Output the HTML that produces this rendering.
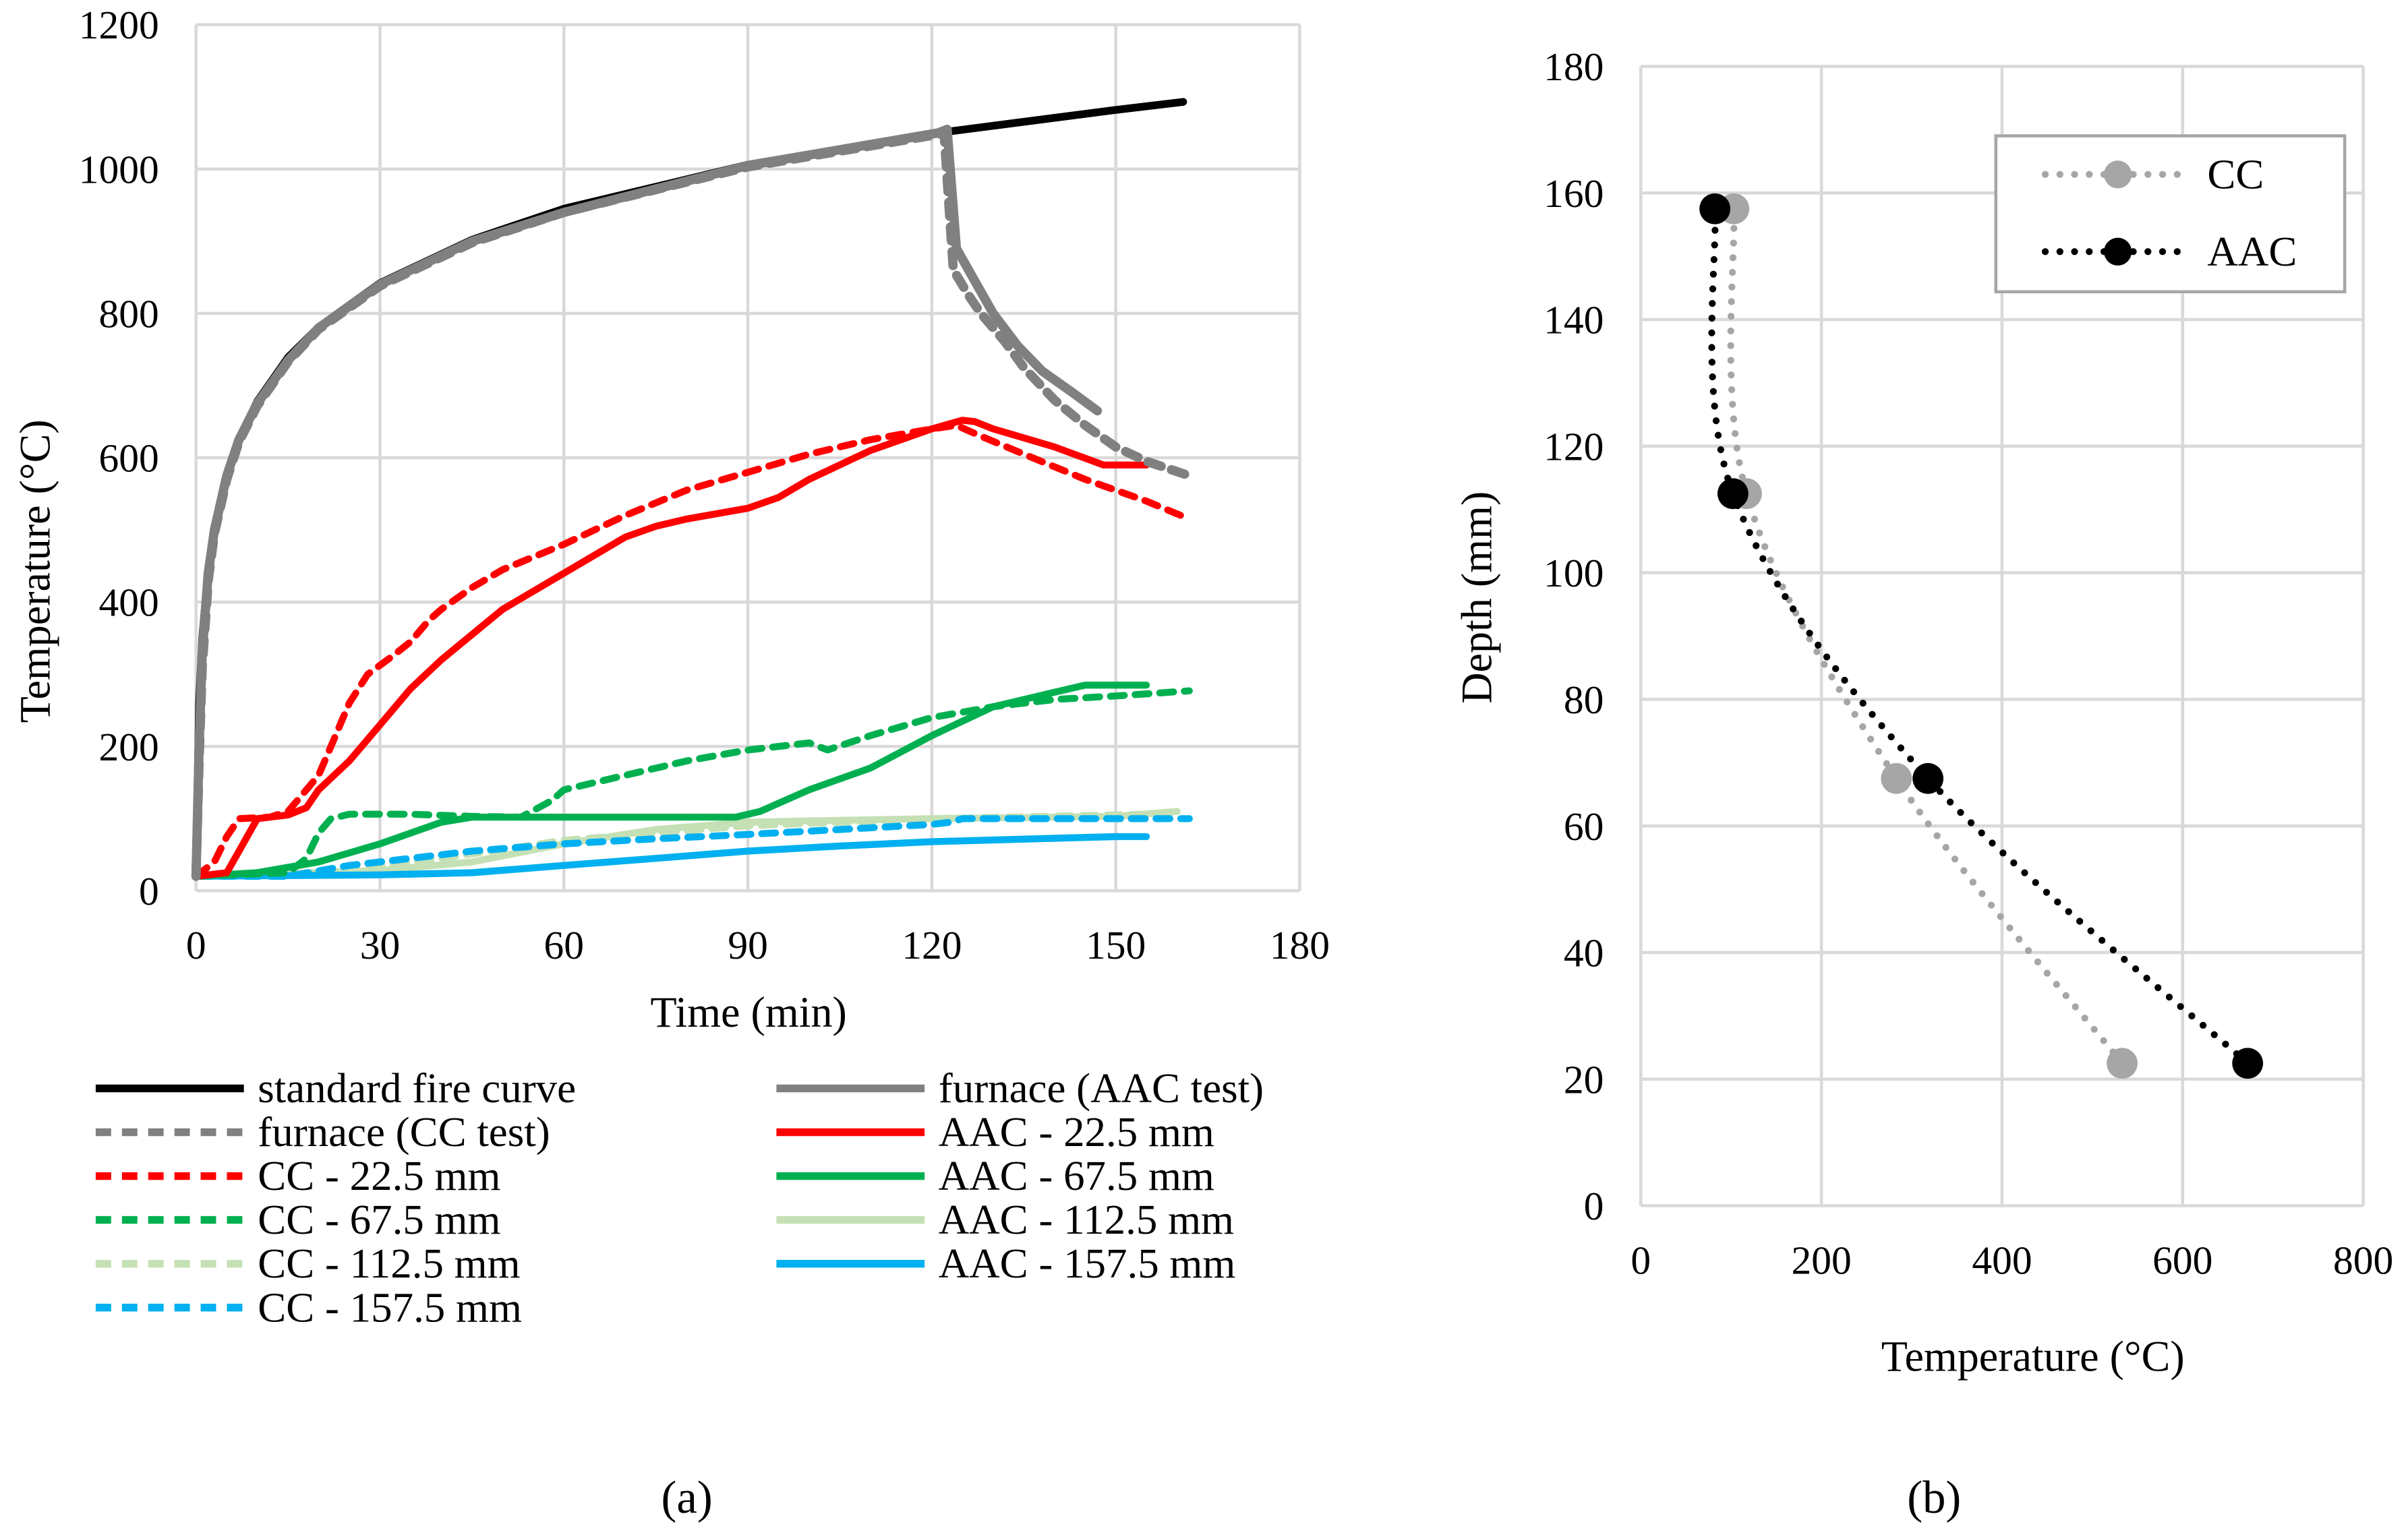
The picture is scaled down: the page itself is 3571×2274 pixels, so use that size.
<!DOCTYPE html>
<html><head><meta charset="utf-8"><style>
html,body{margin:0;padding:0;background:#fff;}
svg{display:block;font-family:"Liberation Serif",serif;}
</style></head><body>
<svg id="chart" width="3571" height="2274" viewBox="0 0 1560 993" preserveAspectRatio="none" xmlns="http://www.w3.org/2000/svg">
<rect x="0" y="0" width="1560" height="993" fill="#fff"/>
<g id="gA"></g>
<g id="gB"></g>
<text x="485" y="665" font-size="28" text-anchor="middle">Time (min)</text>
<text transform="translate(32,370) rotate(-90)" font-size="28" text-anchor="middle">Temperature (°C)</text>
<text x="1317" y="888" font-size="28" text-anchor="middle">Temperature (°C)</text>
<text transform="translate(966,387) rotate(-90)" font-size="28" text-anchor="middle">Depth (mm)</text>
<text x="445" y="980" font-size="30" text-anchor="middle">(a)</text>
<text x="1253" y="980" font-size="30" text-anchor="middle">(b)</text>
</svg>
<script>
// ---- Chart (a) data ----
const xTicksA = [0,30,60,90,120,150,180];
const yTicksA = [0,200,400,600,800,1000,1200];
const stdT = [0,0.5,1,2,3,5,7,10,15,20,30,45,60,90,120,150,161];
const stdV = [20,261,349,445,502,576,626,678,739,781,842,902,945,1006,1049,1082,1093];
const furnAT = [0,0.5,1,2,3,5,7,10,15,20,30,45,60,90,121,122.5,124,127,130,134,138,143,147];
const furnAV = [20,200,330,440,500,575,625,675,735,780,840,900,940,1005,1050,1055,890,845,800,755,720,690,665];
const furnCT = [0,0.5,1,2,3,5,7,10,15,20,30,45,60,90,121,122,123.5,126,128,132,135,140,145,150,155,162];
const furnCV = [20,180,310,430,495,570,622,672,733,778,838,898,940,1003,1048,1050,860,825,800,760,725,680,645,615,595,575];
const redAT = [0,5,8,10,15,18,20,25,30,35,40,50,60,70,75,80,90,95,100,110,120,125,127,130,140,148,155];
const redAV = [20,25,70,100,105,115,140,180,230,280,320,390,440,490,505,515,530,545,570,610,640,652,650,640,615,590,590];
const redCT = [0,3,5,7,12,15,18,20,22,25,28,32,35,38,40,45,50,60,70,80,90,100,110,120,124,128,135,145,155,162];
const redCV = [20,40,75,100,102,110,140,160,200,260,300,325,345,375,390,420,445,480,520,555,580,605,625,640,645,630,605,570,540,515];
const grnAT = [0,10,20,30,40,45,60,88,92,100,110,120,130,140,145,155];
const grnAV = [20,25,40,65,95,102,102,102,110,140,170,215,255,275,285,285];
const grnCT = [0,15,18,20,22,25,35,45,53,58,60,70,80,90,100,103,110,120,130,140,150,162];
const grnCV = [20,25,45,80,100,106,106,103,102,125,140,160,180,195,205,195,215,240,255,265,270,277];
const lgAT = [0,30,45,60,75,90,100,120,150,160];
const lgAV = [20,28,40,65,85,95,97,100,103,110];
const lgCT = [0,20,40,60,90,120,160];
const lgCV = [20,22,45,70,90,100,107];
const bluAT = [0,30,45,60,75,90,105,120,150,155];
const bluAV = [20,22,25,35,45,55,62,68,75,75];
const bluCT = [0,15,25,35,45,60,75,90,105,120,123,125,162];
const bluCV = [20,20,35,45,55,65,72,78,85,92,95,100,100];
// ---- Chart (b) data ----
const xTicksB = [0,200,400,600,800];
const yTicksB = [0,20,40,60,80,100,120,140,160,180];
const depths = [22.5,67.5,112.5,157.5];
const ccTemps = [533,283,117,103];
const aacTemps = [672,318,102,82];

const NS="http://www.w3.org/2000/svg";
function mk(tag,attrs,parent){const e=document.createElementNS(NS,tag);for(const k in attrs)e.setAttribute(k,attrs[k]);parent.appendChild(e);return e;}
const xA=v=>127+(842-127)*v/180, yA=v=>577-(577-16)*v/1200;
const xB=v=>1063+(1531-1063)*v/800, yB=v=>781-(781-43)*v/180;

const gA=document.getElementById('gA'), gB=document.getElementById('gB');
xTicksA.forEach(t=>{const l=mk('line',{x1:xA(t),x2:xA(t),y1:yA(0),y2:yA(1200),stroke:'#d9d9d9','stroke-width':2},gA);


const tx=mk('text',{x:xA(t),y:621,'font-size':26,'text-anchor':'middle'},gA);tx.textContent=t;

});
yTicksA.forEach(t=>{const l=mk('line',{x1:xA(0),x2:xA(180),y1:yA(t),y2:yA(t),stroke:'#d9d9d9','stroke-width':2},gA);


const tx=mk('text',{x:103,y:yA(t)+9,'font-size':26,'text-anchor':'end'},gA);tx.textContent=t;

});
function pathA(T,V){return T.map((t,i)=>(i?'L':'M')+xA(t).toFixed(1)+' '+yA(V[i]).toFixed(1)).join(' ');}
const seriesA=[
 [lgCT,lgCV,'#c5e0b4',false,'cc-112-line'],[lgAT,lgAV,'#c5e0b4',true,'aac-112-line'],
 [bluAT,bluAV,'#00b0f0',true,'aac-157-line'],[bluCT,bluCV,'#00b0f0',false,'cc-157-line'],
 [grnAT,grnAV,'#00b050',true,'aac-67-line'],[grnCT,grnCV,'#00b050',false,'cc-67-line'],
 [redAT,redAV,'#ff0000',true,'aac-22-line'],[redCT,redCV,'#ff0000',false,'cc-22-line'],
 [stdT,stdV,'#000000',true,'standard-fire-curve-line'],
 [furnCT,furnCV,'#808080',false,'furnace-cc-line'],[furnAT,furnAV,'#808080',true,'furnace-aac-line']];
seriesA.forEach(s=>{const w=s[4].startsWith('furnace')?6:(s[4].startsWith('standard')?5:4.5);
const p=mk('path',{d:pathA(s[0],s[1]),fill:'none',stroke:s[2],'stroke-width':w,'stroke-linejoin':'round','stroke-linecap':'round'},gA);
if(!s[3])p.setAttribute('stroke-dasharray','9 7');

});
const legA=[['standard fire curve','#000',true,0,0],['furnace (AAC test)','#808080',true,1,0],['furnace (CC test)','#808080',false,0,1],['AAC - 22.5 mm','#ff0000',true,1,1],
['CC - 22.5 mm','#ff0000',false,0,2],['AAC - 67.5 mm','#00b050',true,1,2],['CC - 67.5 mm','#00b050',false,0,3],['AAC - 112.5 mm','#c5e0b4',true,1,3],
['CC - 112.5 mm','#c5e0b4',false,0,4],['AAC - 157.5 mm','#00b0f0',true,1,4],['CC - 157.5 mm','#00b0f0',false,0,5]];
legA.forEach(e=>{const x0=e[3]?503:62, y=705+e[4]*28.4;
const g=mk('g',{},gA);


const l=mk('line',{x1:x0,x2:x0+96,y1:y,y2:y,stroke:e[1],'stroke-width':5},g);
if(!e[2])l.setAttribute('stroke-dasharray','10 7');
const t=mk('text',{x:x0+105,y:y+9,'font-size':27.5},g);t.textContent=e[0];});
xTicksB.forEach(t=>{const l=mk('line',{x1:xB(t),x2:xB(t),y1:yB(0),y2:yB(180),stroke:'#d9d9d9','stroke-width':2},gB);


const tx=mk('text',{x:xB(t),y:825,'font-size':26,'text-anchor':'middle'},gB);tx.textContent=t;

});
yTicksB.forEach(t=>{const l=mk('line',{x1:xB(0),x2:xB(800),y1:yB(t),y2:yB(t),stroke:'#d9d9d9','stroke-width':2},gB);


const tx=mk('text',{x:1039,y:yB(t)+9,'font-size':26,'text-anchor':'end'},gB);tx.textContent=t;

});
function smooth(pts){let d='M'+pts[0][0]+' '+pts[0][1];for(let i=0;i<pts.length-1;i++){const p0=pts[i-1]||pts[i],p1=pts[i],p2=pts[i+1],p3=pts[i+2]||p2;
const c1=[p1[0]+(p2[0]-p0[0])/6,p1[1]+(p2[1]-p0[1])/6],c2=[p2[0]-(p3[0]-p1[0])/6,p2[1]-(p3[1]-p1[1])/6];
d+=' C'+c1.join(' ')+' '+c2.join(' ')+' '+p2.join(' ');}return d;}
[[ccTemps,'#a6a6a6','cc'],[aacTemps,'#000000','aac']].forEach(s=>{
const pts=s[0].map((v,i)=>[xB(v),yB(depths[i])]);
const p=mk('path',{d:smooth(pts),fill:'none',stroke:s[1],'stroke-width':4.5,'stroke-linecap':'round','stroke-dasharray':'0 9.5'},gB);


pts.forEach(q=>{const c=mk('circle',{cx:q[0],cy:q[1],r:10,fill:s[1]},gB);

});});
const lb=mk('g',{},gB);


mk('rect',{x:1293,y:88,width:226,height:101,fill:'#fff',stroke:'#a6a6a6','stroke-width':2},lb);
[['CC','#a6a6a6',113],['AAC','#000',163]].forEach(e=>{
const g=mk('g',{},lb);


mk('line',{x1:1325,x2:1418,y1:e[2],y2:e[2],stroke:e[1],'stroke-width':4.5,'stroke-linecap':'round','stroke-dasharray':'0 9.5'},g);
mk('circle',{cx:1372,cy:e[2],r:9,fill:e[1]},g);
const t=mk('text',{x:1430,y:e[2]+9,'font-size':27.5},g);t.textContent=e[0];});
</script>
</body></html>
